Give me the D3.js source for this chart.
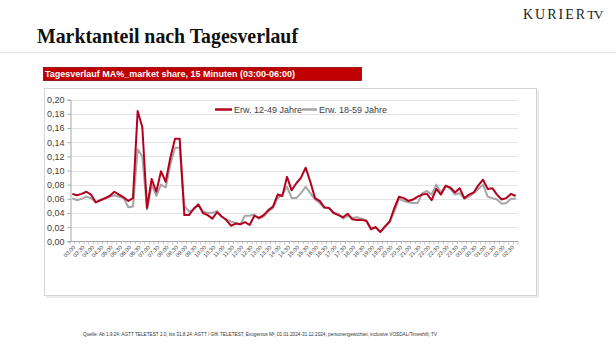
<!DOCTYPE html>
<html>
<head>
<meta charset="utf-8">
<script src="https://cdn.jsdelivr.net/npm/d3@7"></script>
<style>
  html, body { margin: 0; padding: 0; background: #fff; }
  svg { display: block; }
</style>
</head>
<body>
<svg id="chart" width="616" height="347"></svg>
<script>
// 15-minute slots from 03:00 to 02:45
var slots = [];
for (var m = 0; m < 96; m++) {
  var t = (180 + m * 15) % 1440;
  slots.push(d3.format("02d")(Math.floor(t / 60)) + ":" + d3.format("02d")(t % 60));
}

var seriesNames = ["Erw. 12-49 Jahre", "Erw. 18-59 Jahre"];

var red = [
  0.067, 0.065, 0.067, 0.070, 0.066, 0.055, 0.058, 0.061, 0.064, 0.070, 0.066, 0.062,
  0.057, 0.061, 0.184, 0.161, 0.047, 0.088, 0.070, 0.099, 0.084, 0.118, 0.145, 0.145,
  0.037, 0.037, 0.046, 0.052, 0.040, 0.037, 0.032, 0.041, 0.035, 0.030, 0.022, 0.025,
  0.024, 0.027, 0.023, 0.036, 0.033, 0.037, 0.044, 0.049, 0.066, 0.064, 0.091, 0.072,
  0.082, 0.090, 0.104, 0.084, 0.061, 0.057, 0.048, 0.047, 0.040, 0.037, 0.034, 0.039,
  0.031, 0.030, 0.030, 0.029, 0.017, 0.020, 0.013, 0.021, 0.028, 0.047, 0.063, 0.061,
  0.057, 0.059, 0.063, 0.066, 0.067, 0.058, 0.074, 0.066, 0.078, 0.076, 0.069, 0.075,
  0.061, 0.066, 0.069, 0.079, 0.087, 0.074, 0.075, 0.066, 0.059, 0.061, 0.067, 0.064
];

var grey = [
  0.061, 0.058, 0.060, 0.063, 0.061, 0.055, 0.058, 0.060, 0.063, 0.065, 0.063, 0.061,
  0.048, 0.049, 0.130, 0.120, 0.045, 0.080, 0.064, 0.080, 0.076, 0.108, 0.132, 0.132,
  0.050, 0.042, 0.045, 0.052, 0.042, 0.040, 0.040, 0.043, 0.035, 0.031, 0.028, 0.026,
  0.024, 0.036, 0.036, 0.038, 0.032, 0.035, 0.042, 0.047, 0.061, 0.066, 0.077, 0.061,
  0.061, 0.068, 0.077, 0.068, 0.059, 0.054, 0.047, 0.047, 0.040, 0.039, 0.032, 0.036,
  0.033, 0.034, 0.032, 0.029, 0.019, 0.020, 0.014, 0.020, 0.027, 0.042, 0.060, 0.057,
  0.055, 0.054, 0.054, 0.068, 0.071, 0.066, 0.080, 0.069, 0.079, 0.074, 0.066, 0.068,
  0.060, 0.063, 0.068, 0.074, 0.080, 0.063, 0.061, 0.059, 0.053, 0.054, 0.060, 0.060
];

var yTicks = [0, 0.02, 0.04, 0.06, 0.08, 0.10, 0.12, 0.14, 0.16, 0.18, 0.20];

var svg = d3.select("#chart");

// header
var logo = svg.append("text").attr("x", 523).attr("y", 19)
  .attr("font-family", "Liberation Serif").attr("font-size", 14).attr("letter-spacing", 2)
  .attr("fill", "#222");
logo.append("tspan").text("KURIER");
logo.append("tspan").attr("letter-spacing", -1).attr("font-size", 13).text("TV");
svg.append("text").attr("x", 37).attr("y", 43)
  .attr("font-family", "Liberation Serif").attr("font-weight", "bold").attr("font-size", 21)
  .attr("textLength", 261).attr("lengthAdjust", "spacingAndGlyphs")
  .attr("fill", "#111").text("Marktanteil nach Tagesverlauf");
svg.append("line").attr("x1", 0).attr("x2", 616).attr("y1", 52.5).attr("y2", 52.5)
  .attr("stroke", "#e6e6e6").attr("stroke-width", 1.5);

// red title bar
svg.append("rect").attr("x", 43.5).attr("y", 67.5).attr("width", 318).attr("height", 13)
  .attr("fill", "#c00000").attr("stroke", "#8a0000").attr("stroke-width", 0.8);
svg.append("text").attr("x", 45).attr("y", 77.3)
  .attr("font-family", "Liberation Sans").attr("font-weight", "bold").attr("font-size", 9)
  .attr("fill", "#fff").text("Tagesverlauf MA%_market share, 15 Minuten (03:00-06:00)");

// chart frame with a faint shadow
svg.append("rect").attr("x", 46).attr("y", 90).attr("width", 493).attr("height", 208)
  .attr("fill", "#ececec");
svg.append("rect").attr("x", 44.5).attr("y", 88.5).attr("width", 492).attr("height", 207)
  .attr("fill", "#fff").attr("stroke", "#d4d4d4").attr("stroke-width", 1);

var margin = {left: 70, right: 518, top: 99.7, bottom: 241.3};

var x = d3.scalePoint().domain(d3.range(slots.length))
  .range([margin.left, margin.right]).padding(0.5);
var y = d3.scaleLinear().domain([0, 0.2]).range([margin.bottom, margin.top]);

// gridlines
svg.append("g").selectAll("line").data(yTicks.slice(1)).join("line")
  .attr("x1", margin.left).attr("x2", margin.right)
  .attr("y1", function(d) { return Math.round(y(d)) + 0.5; })
  .attr("y2", function(d) { return Math.round(y(d)) + 0.5; })
  .attr("stroke", "#dcdcdc").attr("stroke-width", 0.8);

// y axis
var yAxis = svg.append("g").attr("transform", "translate(" + (margin.left + 0.5) + ",0)")
  .call(d3.axisLeft(y).tickValues(yTicks).tickSize(3).tickPadding(3)
    .tickFormat(function(d) { return d3.format(".2f")(d).replace(".", ","); }));
yAxis.selectAll("path, line").attr("stroke", "#a6a6a6");
yAxis.selectAll("text").attr("font-family", "Liberation Sans").attr("font-size", 9).attr("fill", "#404040");

// x axis
var xAxis = svg.append("g").attr("transform", "translate(0," + (Math.round(margin.bottom) + 0.5) + ")");
xAxis.append("line").attr("x1", margin.left).attr("x2", margin.right)
  .attr("stroke", "#a6a6a6");
var step = x.step();
xAxis.selectAll("line.tk").data(d3.range(slots.length + 1)).join("line").attr("class", "tk")
  .attr("x1", function(d) { return margin.left + d * step; })
  .attr("x2", function(d) { return margin.left + d * step; })
  .attr("y1", 0).attr("y2", 3).attr("stroke", "#a6a6a6").attr("stroke-width", 0.6);
xAxis.selectAll("text").data(slots.filter(function(d, i) { return i % 2 === 0; })).join("text")
  .attr("transform", function(d, i) {
    return "translate(" + (x(i * 2) + 2) + ",5) rotate(-45)";
  })
  .attr("text-anchor", "end").attr("dy", "0.35em")
  .attr("font-family", "Liberation Sans").attr("font-size", 5.6).attr("fill", "#404040")
  .text(function(d) { return d; });

// lines
var line = d3.line().x(function(d, i) { return x(i); }).y(function(d) { return y(d); });
svg.append("path").datum(grey).attr("d", line).attr("fill", "none")
  .attr("stroke", "#a6a6a6").attr("stroke-width", 2).attr("stroke-linejoin", "round");
svg.append("path").datum(red).attr("d", line).attr("fill", "none")
  .attr("stroke", "#b4001e").attr("stroke-width", 2).attr("stroke-linejoin", "round");

// legend
var legend = [
  {name: seriesNames[0], color: "#b4001e", x1: 215, x2: 232, tx: 234},
  {name: seriesNames[1], color: "#a6a6a6", x1: 302, x2: 317, tx: 319}
];
var lg = svg.append("g");
lg.selectAll("line").data(legend).join("line")
  .attr("x1", function(d) { return d.x1; }).attr("x2", function(d) { return d.x2; })
  .attr("y1", 109.5).attr("y2", 109.5)
  .attr("stroke", function(d) { return d.color; }).attr("stroke-width", 2.5);
lg.selectAll("text").data(legend).join("text")
  .attr("x", function(d) { return d.tx; }).attr("y", 109.5).attr("dy", "0.35em")
  .attr("font-family", "Liberation Sans").attr("font-size", 9).attr("fill", "#404040")
  .text(function(d) { return d.name; });

// footer
svg.append("text").attr("x", 83).attr("y", 336)
  .attr("font-family", "Liberation Sans").attr("font-size", 5.6)
  .attr("textLength", 354).attr("lengthAdjust", "spacingAndGlyphs")
  .attr("fill", "#333")
  .text("Quelle: Ab 1.9.24: AGTT TELETEST 2.0, bis 31.8.24: AGTT / GfK TELETEST; Evogenius M\u00B3; 01.01.2024-31.12.2024; personengewichtet;  inclusive  VOSDAL/Timeshift;  TV");
</script>
</body>
</html>
